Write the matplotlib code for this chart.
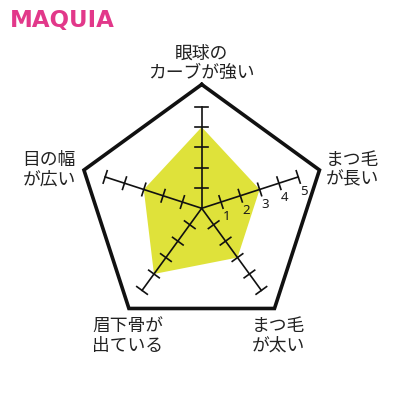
import numpy as np
import matplotlib
matplotlib.use("Agg")
import matplotlib.pyplot as plt

plt.rcParams['font.family'] = ['Noto Sans CJK JP', 'DejaVu Sans']

# ---- data ----
categories = ["眼球の\nカーブが強い", "まつ毛\nが長い", "まつ毛\nが太い", "眉下骨が\n出ている", "目の幅\nが広い"]
values = [4, 3, 3, 4, 3]
scale_ticks = [1, 2, 3, 4, 5]
scale_max = 5

# ---- layout ----
W = H = 400
PX_PER_UNIT = 20.3
CX, CY = 201.7, 208.3          # centre of the radar in pixels
FRAME_R = 6.1                  # outer pentagon radius in value units
YELLOW = "#dfe23a"
PINK = "#e2388a"

fig = plt.figure(figsize=(4, 4), dpi=100)
ax = fig.add_axes([0, 0, 1, 1])
ax.set_xlim(-CX / PX_PER_UNIT, (W - CX) / PX_PER_UNIT)
ax.set_ylim(-(H - CY) / PX_PER_UNIT, CY / PX_PER_UNIT)
ax.set_aspect('equal')
ax.axis('off')

n = len(categories)
angles = np.deg2rad(90 - 72 * np.arange(n))
ux, uy = np.cos(angles), np.sin(angles)

# filled polygon
vals = np.array(values, dtype=float)
ax.fill(vals * ux, vals * uy, color=YELLOW, lw=0, zorder=1)

# outer pentagon
px = np.append(FRAME_R * ux, FRAME_R * ux[0])
py = np.append(FRAME_R * uy, FRAME_R * uy[0])
ax.plot(px, py, color='#111111', lw=2.6, solid_joinstyle='miter', zorder=3)

# axes with tick marks
tick_half = 0.32
for i in range(n):
    ax.plot([0, scale_max * ux[i]], [0, scale_max * uy[i]], color='#111111', lw=1.2, zorder=2)
    perp = np.array([-uy[i], ux[i]])
    for t in scale_ticks:
        cx, cy = t * ux[i], t * uy[i]
        ax.plot([cx - tick_half * perp[0], cx + tick_half * perp[0]],
                [cy - tick_half * perp[1], cy + tick_half * perp[1]],
                color='#111111', lw=1.2, zorder=2)

# scale numbers along the right axis
i = 1
perp_down = np.array([uy[i], -ux[i]])
for t in scale_ticks:
    x = t * ux[i] + 0.78 * perp_down[0] + 0.05 * ux[i]
    y = t * uy[i] + 0.78 * perp_down[1] + 0.05 * uy[i]
    ax.text(x, y, str(t), ha='center', va='center', fontsize=9.5,
            family=['Noto Sans', 'DejaVu Sans'], color='#1a1a1a', zorder=4)

# category labels (pixel anchors)
label_pos = [(201, 63), (352, 170), (278, 336), (128, 336), (49, 170)]
for lab, (lx, ly) in zip(categories, label_pos):
    fig.text(lx / W, 1 - ly / H, lab, ha='center', va='center', fontsize=12.8,
             color='#222222', linespacing=1.1)

# logo
fig.text(10 / W, 1 - 27 / H, "MAQUIA", ha='left', va='baseline', fontsize=16.5,
         fontweight='bold', family=['DejaVu Sans'], color=PINK)

fig.savefig("out.png", dpi=100, facecolor='white')
